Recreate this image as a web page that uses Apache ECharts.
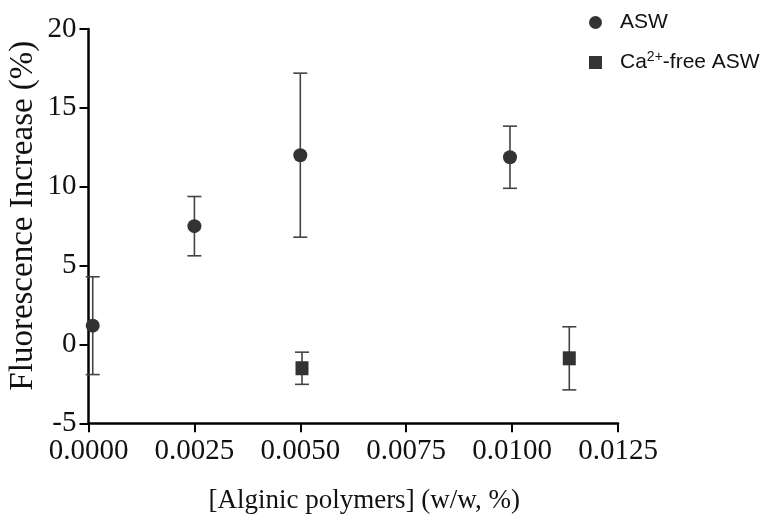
<!DOCTYPE html>
<html><head><meta charset="utf-8">
<script src="https://cdn.jsdelivr.net/npm/echarts@6/dist/echarts.min.js"></script>
<style>html,body{margin:0;padding:0;background:#fff}#c{width:769px;height:518px}</style>
</head><body><div id="c"></div>
<script>
var xTicks = [0, 0.0025, 0.005, 0.0075, 0.01, 0.0125];
var aswX = [0.0001, 0.0025, 0.005, 0.00995];
var aswY = [1.19, 7.5, 12.0, 11.87];
var aswErr = [3.1, 1.88, 5.2, 1.97];
var caX = [0.00504, 0.01135];
var caY = [-1.51, -0.88];
var caErr = [1.02, 2.0];

var chart = echarts.init(document.getElementById('c'));
function errData(xs, ys, es){ return xs.map(function(x,i){return [x, ys[i]-es[i], ys[i]+es[i]];}); }
function errRender(params, api){
  var x = api.value(0), lo = api.value(1), hi = api.value(2);
  var p1 = api.coord([x, hi]), p2 = api.coord([x, lo]);
  var w = 7;
  var st = {stroke:'#444', lineWidth:1.6};
  return {type:'group', children:[
    {type:'line', shape:{x1:p1[0],y1:p1[1],x2:p2[0],y2:p2[1]}, style:st},
    {type:'line', shape:{x1:p1[0]-w,y1:p1[1],x2:p1[0]+w,y2:p1[1]}, style:st},
    {type:'line', shape:{x1:p2[0]-w,y1:p2[1],x2:p2[0]+w,y2:p2[1]}, style:st}
  ]};
}
var serif = '"Liberation Serif","Times New Roman",serif';
var sans = '"Liberation Sans",Arial,sans-serif';
chart.setOption({
  animation:false,
  grid:{left:88.5, right:151, top:29, bottom:94.7, containLabel:false, outerBoundsMode:'none'},
  legend:{
    orient:'vertical', left:589, top:12, padding:0, itemGap:17, itemWidth:13, itemHeight:13,
    textStyle:{fontFamily:sans, fontSize:21, color:'#111', padding:[0,0,0,13],
      rich:{n:{fontFamily:sans, fontSize:21, color:'#111'},
            s:{fontFamily:sans, fontSize:14, color:'#111', verticalAlign:'bottom', padding:[0,0,11,0]}}},
    formatter:function(n){ if(n==='Ca2+-free ASW') return '{n|Ca}{s|2+}{n|-free ASW}'; return n; },
    data:[{name:'ASW', icon:'circle'},{name:'Ca2+-free ASW', icon:'rect'}]
  },
  xAxis:{type:'value', min:0, max:0.0125, interval:0.0025,
    name:'[Alginic polymers] (w/w, %)', nameLocation:'middle', nameGap:64, nameMoveOverlap:false,
    nameTextStyle:{fontFamily:serif, fontSize:27, color:'#111', padding:[0,0,0,22]},
    axisLine:{onZero:false, lineStyle:{color:'#000', width:2.5}},
    axisTick:{show:true, length:9, lineStyle:{color:'#000', width:2}},
    splitLine:{show:false},
    axisLabel:{fontFamily:serif, fontSize:29, color:'#111', margin:14,
      formatter:function(v){ return v.toFixed(4); }}
  },
  yAxis:{type:'value', min:-5, max:20, interval:5,
    name:'Fluorescence Increase (%)', nameLocation:'middle', nameGap:49, nameMoveOverlap:false,
    nameTextStyle:{fontFamily:serif, fontSize:33, color:'#111', padding:[0,0,0,21]},
    axisLine:{show:true, onZero:false, lineStyle:{color:'#000', width:2.5}},
    axisTick:{show:true, length:9, lineStyle:{color:'#000', width:2}},
    splitLine:{show:false},
    axisLabel:{fontFamily:serif, fontSize:29, color:'#111', margin:12}
  },
  series:[
    {name:'ASW', type:'scatter', symbol:'circle', symbolSize:14, itemStyle:{color:'#333', opacity:1},
      data:aswX.map(function(x,i){return [x, aswY[i]];}), z:3},
    {name:'Ca2+-free ASW', type:'scatter', symbol:'rect', symbolSize:[13,14], itemStyle:{color:'#333', opacity:1},
      data:caX.map(function(x,i){return [x, caY[i]];}), z:3},
    {type:'custom', renderItem:errRender, data:errData(aswX, aswY, aswErr), z:2, silent:true},
    {type:'custom', renderItem:errRender, data:errData(caX, caY, caErr), z:2, silent:true}
  ]
});
</script></body></html>
